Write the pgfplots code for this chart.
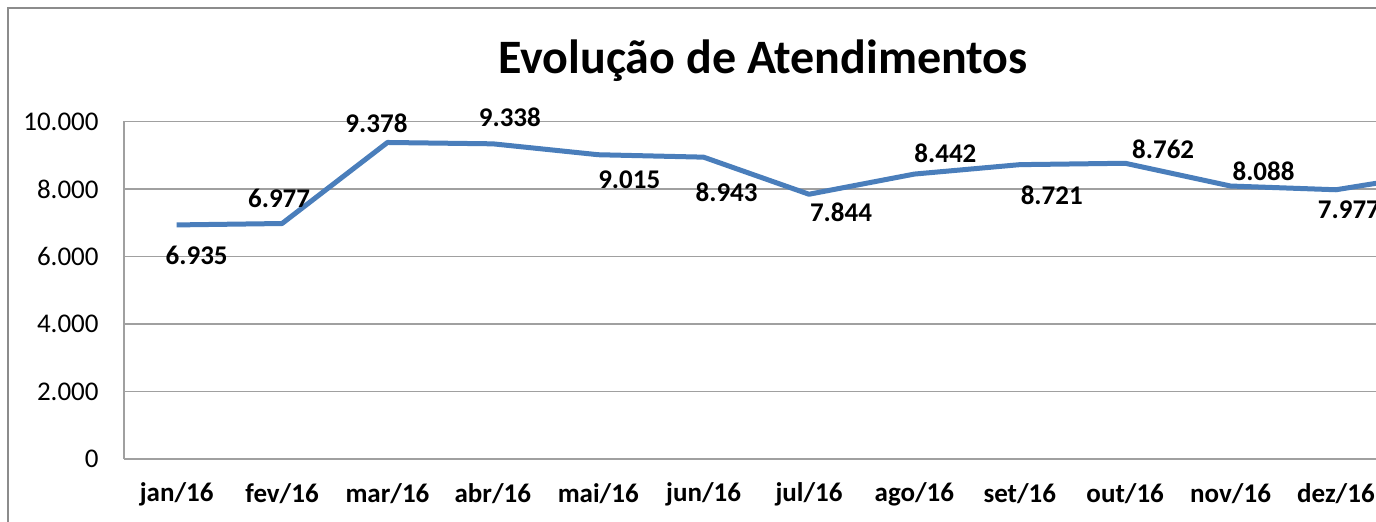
\documentclass[border=0pt]{standalone}
\usepackage{pgfplots}
\pgfplotsset{compat=1.18}
\usepackage{pgfplotstable}
\usepackage{fontspec}
\setmainfont{Carlito}
\definecolor{lineblue}{HTML}{4A7EBB}
\definecolor{gridgray}{HTML}{A0A0A0}
\definecolor{bordergray}{HTML}{8C8C8C}

\pgfplotstableread{
x y dx dy
0 6935 10 -15
1 6977 -1.5 12.5
2 9378 -5.5 9.5
3 9338 8.5 13.25
4 9015 15.5 -12.75
5 8943 11.5 -17.5
6 7844 16 -9
7 8442 15.5 10.5
8 8721 16 -15.25
9 8762 19 7
10 8088 16.5 7.25
11 7977 6.5 -10
12 8480 0 10
}\datatable

\begin{document}
\begin{tikzpicture}
\path[use as bounding box] (0,0) rectangle (688pt,261pt);
\clip (0,0) rectangle (688pt,261pt);
\draw[bordergray, line width=1pt] (4pt,-20pt) rectangle (720pt,257pt);
\node[font=\bfseries\fontsize{24}{28}\selectfont, anchor=center, inner sep=0pt] at (381.5pt,230.5pt) {Evolução de Atendimentos};
\begin{axis}[
  at={(62pt,31.5pt)}, anchor=south west,
  scale only axis, width=685pt, height=168.75pt,
  xmin=-0.5, xmax=12.5, ymin=0, ymax=10000,
  clip=false,
  axis lines=left,
  axis line style={gridgray, line width=0.75pt, -},
  major tick length=0pt,
  ymajorgrids, grid style={gridgray, line width=0.75pt},
  ytick={0,2000,4000,6000,8000,10000},
  scaled y ticks=false,
  xtick={0,1,2,3,4,5,6,7,8,9,10,11,12},
  xticklabels={jan/16,fev/16,mar/16,abr/16,mai/16,jun/16,jul/16,ago/16,set/16,out/16,nov/16,dez/16,jan/17},
  /pgf/number format/assume math mode=true,
  /pgf/number format/.cd, fixed, precision=0, 1000 sep={.},
  /pgfplots/.cd,
  yticklabel style={font=\fontsize{13.5}{16}\selectfont, anchor=east, inner sep=0pt, xshift=-12.5pt, text=black},
  xticklabel style={font=\bfseries\fontsize{13.5}{16}\selectfont, anchor=center, inner sep=0pt, yshift=-17.5pt, text=black},
  nodes near coords,
  visualization depends on={\thisrow{dx} \as \dx},
  visualization depends on={\thisrow{dy} \as \dy},
  nodes near coords style={anchor=center, xshift=\dx pt, yshift=\dy pt, font=\bfseries\fontsize{13.5}{16}\selectfont, text=black, inner sep=0pt},
]
\addplot[lineblue, line width=2.5pt, line join=round, mark=none] table[x=x,y=y] {\datatable};
\end{axis}
\end{tikzpicture}
\end{document}
